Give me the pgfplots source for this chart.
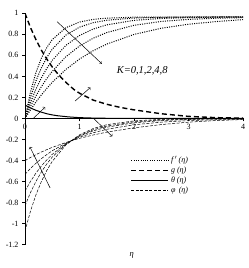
\documentclass[border=0pt]{standalone}
\usepackage{fontspec}
\setmainfont{Liberation Serif}
\usepackage{pgfplots}
\pgfplotsset{compat=1.18}
\begin{document}
\begin{tikzpicture}
\useasboundingbox (0,0) rectangle (249pt,268pt);
\begin{axis}[
 at={(25pt,23.3pt)}, anchor=south west,
 scale only axis, width=218pt, height=231.4pt,
 xmin=0, xmax=4, ymin=-1.2, ymax=1,
 axis x line=middle, axis y line=left,
 axis line style={-, line width=0.6pt},
 xtick={0,1,2,3,4},
 ytick={-1.2,-1,-0.8,-0.6,-0.4,-0.2,0,0.2,0.4,0.6,0.8,1},
 hide obscured x ticks=false, hide obscured y ticks=false,
 tick align=outside, major tick length=3pt,
 tick style={line width=0.5pt, black},
 tick label style={font=\fontsize{8}{9}\selectfont},
 /pgf/number format/assume math mode=true,
 xticklabel style={yshift=1pt},
 xlabel={\textit{η}},
 xlabel style={at={(axis description cs:0.49,0)}, anchor=north, yshift=-4pt, font=\fontsize{8.5}{9}\selectfont},
 legend style={at={(axis description cs:0.47,0.40)}, anchor=north west, draw=none, fill=none,
   font=\fontsize{8}{9}\selectfont\itshape, row sep=-1pt, cells={anchor=west}},
 legend image code/.code={\draw[#1] (0pt,0pt) -- (37pt,0pt);},
]
% f'(eta), K=0,1,2,4,8
\addplot[black, line width=1pt, dash pattern=on 1pt off 1.3pt] coordinates {
(0,0) (0.1,0.250) (0.2,0.435) (0.3,0.573) (0.4,0.674) (0.5,0.750) (0.75,0.863) (1,0.917) (1.25,0.942) (1.5,0.954) (2,0.963) (2.5,0.964) (3,0.965) (3.5,0.965) (4,0.965)};
\addlegendentry{f\,$'$\,(η)}
\addplot[black, line width=1pt, dash pattern=on 1pt off 1.3pt, forget plot] coordinates {
(0,0) (0.1,0.198) (0.2,0.356) (0.3,0.481) (0.4,0.580) (0.5,0.659) (0.75,0.793) (1,0.868) (1.25,0.911) (1.5,0.934) (2,0.955) (2.5,0.962) (3,0.964) (3.5,0.965) (4,0.965)};
\addplot[black, line width=1pt, dash pattern=on 1pt off 1.3pt, forget plot] coordinates {
(0,0) (0.1,0.151) (0.2,0.278) (0.3,0.386) (0.4,0.476) (0.5,0.553) (0.75,0.695) (1,0.789) (1.25,0.850) (1.5,0.890) (2,0.933) (2.5,0.951) (3,0.959) (3.5,0.962) (4,0.964)};
\addplot[black, line width=1pt, dash pattern=on 1pt off 1.3pt, forget plot] coordinates {
(0,0) (0.1,0.113) (0.2,0.213) (0.3,0.302) (0.4,0.380) (0.5,0.448) (0.75,0.587) (1,0.689) (1.25,0.763) (1.5,0.817) (2,0.886) (2.5,0.923) (3,0.942) (3.5,0.953) (4,0.959)};
\addplot[black, line width=1pt, dash pattern=on 1pt off 1.3pt, forget plot] coordinates {
(0,0) (0.1,0.081) (0.2,0.156) (0.3,0.224) (0.4,0.286) (0.5,0.344) (0.75,0.466) (1,0.565) (1.25,0.644) (1.5,0.707) (2,0.799) (2.5,0.858) (3,0.896) (3.5,0.921) (4,0.940)};
% g(eta)
\addplot[black, line width=1.4pt, dash pattern=on 5pt off 3pt] coordinates {
(0,1) (0.1,0.865) (0.2,0.75) (0.3,0.65) (0.4,0.565) (0.5,0.49) (0.6,0.425) (0.7,0.37) (0.8,0.32) (0.9,0.275) (1,0.24) (1.25,0.175) (1.5,0.135) (1.75,0.105) (2,0.082) (2.5,0.045) (3,0.02) (3.5,0.008) (4,0.003)};
\addlegendentry{g (η)}
% theta(eta)
\addplot[black, line width=1pt] coordinates {
(0,0.128) (0.1,0.1) (0.2,0.078) (0.3,0.06) (0.4,0.045) (0.5,0.034) (0.6,0.026) (0.8,0.015) (1,0.008) (1.25,0.004) (1.5,0.002) (2,0.0005) (4,0)};
\addlegendentry{θ (η)}
% phi(eta)
\addplot[black, line width=0.5pt, dash pattern=on 3pt off 1.5pt] coordinates {
(0,-0.40) (0.1,-0.371) (0.2,-0.344) (0.3,-0.319) (0.4,-0.296) (0.5,-0.275) (0.75,-0.228) (1,-0.189) (1.25,-0.157) (1.5,-0.130) (2,-0.089) (2.5,-0.058) (3,-0.035) (3.5,-0.02) (4,-0.01)};
\addlegendentry{φ\, (η)}
\addplot[black, line width=0.5pt, dash pattern=on 3pt off 1.5pt, forget plot] coordinates {
(0,-0.53) (0.1,-0.475) (0.2,-0.426) (0.3,-0.382) (0.4,-0.343) (0.5,-0.307) (0.75,-0.234) (1,-0.178) (1.25,-0.136) (1.5,-0.103) (2,-0.060) (2.5,-0.035) (3,-0.020) (3.5,-0.012) (4,-0.007)};
\addplot[black, line width=0.5pt, dash pattern=on 3pt off 1.5pt, forget plot] coordinates {
(0,-0.69) (0.1,-0.599) (0.2,-0.520) (0.3,-0.452) (0.4,-0.393) (0.5,-0.341) (0.75,-0.240) (1,-0.168) (1.25,-0.118) (1.5,-0.083) (2,-0.041) (2.5,-0.020) (3,-0.010) (3.5,-0.005) (4,-0.002)};
\addplot[black, line width=0.5pt, dash pattern=on 3pt off 1.5pt, forget plot] coordinates {
(0,-0.83) (0.1,-0.705) (0.2,-0.599) (0.3,-0.509) (0.4,-0.432) (0.5,-0.367) (0.75,-0.244) (1,-0.163) (1.25,-0.108) (1.5,-0.072) (2,-0.032) (2.5,-0.014) (3,-0.006) (3.5,-0.003) (4,-0.001)};
\addplot[black, line width=0.5pt, dash pattern=on 3pt off 1.5pt, forget plot] coordinates {
(0,-1.07) (0.1,-0.882) (0.2,-0.727) (0.3,-0.600) (0.4,-0.494) (0.5,-0.408) (0.75,-0.252) (1,-0.155) (1.25,-0.096) (1.5,-0.059) (2,-0.023) (2.5,-0.008) (3,-0.003) (3.5,-0.001) (4,0)};
% annotations
\draw[->, line width=0.5pt] (axis cs:0.59,0.92) -- (axis cs:1.41,0.52);
\draw[->, line width=0.5pt] (axis cs:0.92,0.166) -- (axis cs:1.2,0.295);
\draw[->, line width=0.5pt] (axis cs:0.15,0) -- (axis cs:0.37,0.108);
\draw[->, line width=0.5pt] (axis cs:1.26,0) -- (axis cs:1.6,-0.17);
\draw[->, line width=0.5pt] (axis cs:0.46,-0.66) -- (axis cs:0.09,-0.27);
\node[font=\fontsize{10.5}{12}\selectfont\itshape] at (axis cs:2.15,0.45) {K=0,1,2,4,8};
\end{axis}
\end{tikzpicture}
\end{document}
